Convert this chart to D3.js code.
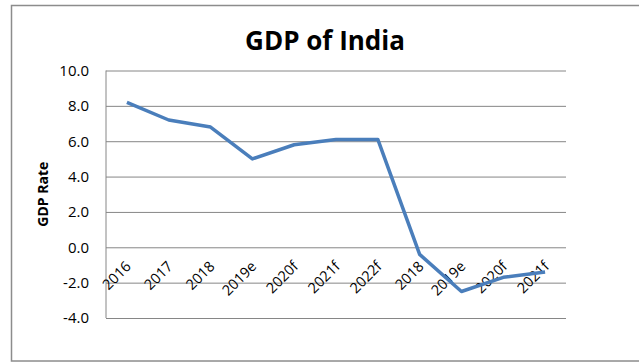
<!DOCTYPE html>
<html>
<head>
<meta charset="utf-8">
<script src="https://cdn.jsdelivr.net/npm/d3@7"></script>
<style>
  body { margin: 0; background: #fff; }
  svg text { font-family: "Open Sans", Lato, sans-serif; }
</style>
</head>
<body>
<svg width="639" height="362"></svg>
<script>
var categories = ["2016", "2017", "2018", "2019e", "2020f", "2021f", "2022f", "2018", "2019e", "2020f", "2021f"];
var gdpRate = [8.2, 7.2, 6.8, 5.0, 5.8, 6.1, 6.1, -0.4, -2.5, -1.7, -1.4];
var yTicks = [-4, -2, 0, 2, 4, 6, 8, 10];

var data = categories.map(function(c, i) { return {key: i, label: c, value: gdpRate[i]}; });

var svg = d3.select("svg"),
    margin = {top: 70.5, right: 73, bottom: 44, left: 106},
    width = +svg.attr("width") - margin.left - margin.right,
    height = +svg.attr("height") - margin.top - margin.bottom;

// outer chart frame (right edge runs off the picture)
svg.append("rect")
    .attr("x", 11.5).attr("y", 5.5)
    .attr("width", 660).attr("height", 355.5)
    .attr("fill", "none")
    .attr("stroke", "#8c8c8c")
    .attr("stroke-width", 1.5);

svg.append("text")
    .attr("x", 325).attr("y", 50)
    .attr("text-anchor", "middle")
    .attr("font-size", 26)
    .attr("font-weight", "bold")
    .attr("fill", "#000")
    .text("GDP of India");

var g = svg.append("g").attr("transform", "translate(" + margin.left + "," + margin.top + ")");

var x = d3.scaleBand()
    .domain(data.map(function(d) { return d.key; }))
    .range([0, width]);

var y = d3.scaleLinear()
    .domain([-4, 10])
    .range([height, 0]);

// gridlines + y labels
var yAxis = g.append("g")
    .call(d3.axisLeft(y).tickValues(yTicks).tickSize(-width).tickFormat(function(d) { return d.toFixed(1); }));
yAxis.select(".domain").remove();
yAxis.selectAll(".tick line").attr("stroke", "#868686").attr("stroke-width", 1);
yAxis.selectAll(".tick text")
    .attr("x", -17)
    .attr("font-size", 15)
    .attr("fill", "#000");

// vertical axis line
g.append("line")
    .attr("x1", 0).attr("x2", 0)
    .attr("y1", 0).attr("y2", height)
    .attr("stroke", "#868686");

g.append("text")
    .attr("transform", "translate(-58," + (height / 2) + ") rotate(-90)")
    .attr("text-anchor", "middle")
    .attr("font-size", 14)
    .attr("font-weight", "bold")
    .attr("fill", "#000")
    .text("GDP Rate");

// category labels near the zero line
g.append("g")
    .selectAll("text")
    .data(data)
    .join("text")
    .attr("transform", function(d) {
      return "translate(" + (x(d.key) + x.bandwidth() / 2 + 5) + "," + (y(0) + 20) + ") rotate(-45)";
    })
    .attr("text-anchor", "end")
    .attr("font-size", 14.5)
    .attr("fill", "#000")
    .text(function(d) { return d.label; });

var line = d3.line()
    .x(function(d) { return x(d.key) + x.bandwidth() / 2; })
    .y(function(d) { return y(d.value); });

g.append("path")
    .datum(data)
    .attr("fill", "none")
    .attr("stroke", "#4a7ebb")
    .attr("stroke-width", 3.5)
    .attr("stroke-linejoin", "round")
    .attr("d", line);
</script>
</body>
</html>
